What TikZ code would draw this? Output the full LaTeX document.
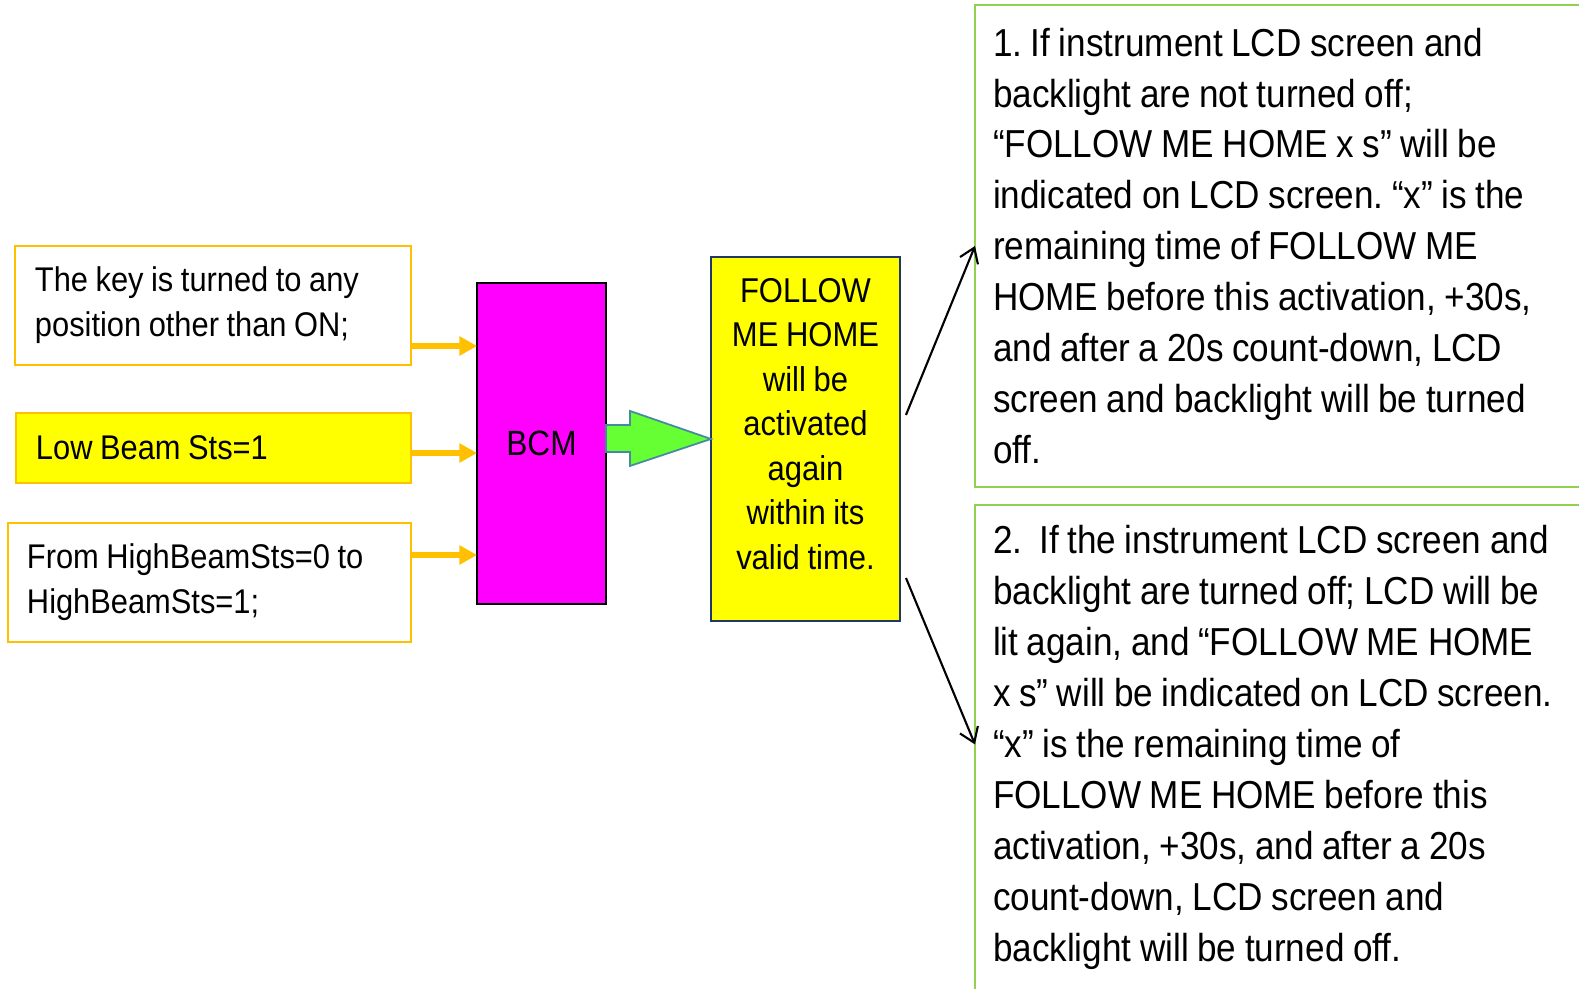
\documentclass[tikz,border=0pt]{standalone}
\usepackage{fontspec}
\setmainfont{Liberation Sans}[FakeStretch=0.9]
\frenchspacing
\usetikzlibrary{arrows.meta}
\definecolor{keyorange}{HTML}{FFC000}
\definecolor{beamyellow}{HTML}{FFFF00}
\definecolor{bcmmagenta}{HTML}{FF00FF}
\definecolor{flowgreen}{HTML}{66FF33}
\definecolor{flowedge}{RGB}{70,138,160}
\definecolor{fmhedge}{HTML}{1F3864}
\definecolor{noteedge}{HTML}{92D050}
\newcommand\narrowtext[2]{\fontsize{#1}{#2}\selectfont\spaceskip=0.22em\relax}

\begin{document}
\begin{tikzpicture}[x=0.02cm, y=-0.02cm,
  srcbox/.style={draw=keyorange, line width=1.1pt, outer sep=0pt, anchor=north west, align=flush left,
    inner xsep=0.4cm, inner ysep=0pt, font=\narrowtext{19.5}{25.6}},
  notebox/.style={draw=noteedge, line width=1.4pt, outer sep=0pt, anchor=north west, align=flush left,
    inner xsep=0.36cm, inner ysep=0pt, text width=12cm, font=\narrowtext{22.2}{29}},
  inarr/.style={keyorange, line width=3.4pt, -{Triangle[length=10pt,width=10.5pt]}},
  thinarr/.style={line width=1.2pt, -{Straight Barb[length=8pt,width=11pt]}}]
\useasboundingbox (0,0) rectangle (1579,988);
\clip (0,0) rectangle (1579,988);
% inputs
\node[srcbox, text width=7.12cm, minimum height=2.38cm] (key) at (15,246)
  {The key is turned to any\\position other than ON;};
\node[srcbox, fill=beamyellow, text width=7.1cm, minimum height=1.4cm] (lowbeam) at (16,413)
  {Low Beam Sts=1};
\node[srcbox, inner xsep=0.38cm, text width=7.3cm, minimum height=2.38cm] (highbeam) at (8,523)
  {From HighBeamSts=0 to\\HighBeamSts=1;};
% controller and result
\node[draw, fill=bcmmagenta, line width=1.1pt, outer sep=0pt, inner sep=0pt, anchor=north west,
  minimum width=2.58cm, minimum height=6.42cm, font=\narrowtext{20}{24}] (bcm) at (477,283) {BCM};
\node[draw=fmhedge, fill=beamyellow, line width=1.1pt, outer sep=0pt, inner sep=0pt, anchor=north west,
  text width=3.78cm, align=flush center, text height=0.91cm, text depth=6.37cm,
  font=\narrowtext{19.6}{25.3}] (fmh) at (711,257)
  {FOLLOW\\ME HOME\\will be\\activated\\again\\within its\\valid time.};
% notes
\node[notebox, minimum height=9.64cm] (note1) at (975,5)
  {1. If instrument LCD screen and\\
   backlight are not turned off;\\
   “FOLLOW ME HOME x s” will be\\
   indicated on LCD screen. “x” is the\\
   remaining time of FOLLOW ME\\
   HOME before this activation, +30s,\\
   and after a 20s count-down, LCD\\
   screen and backlight will be turned\\
   off.};
\node[notebox, text height=0.97cm, text depth=8.93cm] (note2) at (975,505)
  {2.\ \ If the instrument LCD screen and\\
   backlight are turned off; LCD will be\\
   lit again, and “FOLLOW ME HOME\\
   x s” will be indicated on LCD screen.\\
   “x” is the remaining time of\\
   FOLLOW ME HOME before this\\
   activation, +30s, and after a 20s\\
   count-down, LCD screen and\\
   backlight will be turned off.};
% connectors
\draw[inarr] (key.east |- 0,346) -- (bcm.west |- 0,346);
\draw[inarr] (lowbeam.east |- 0,453) -- (bcm.west |- 0,453);
\draw[inarr] (highbeam.east |- 0,555) -- (bcm.west |- 0,555);
\draw[flowedge, fill=flowgreen, line width=1pt] (fmh.west) -- ++(-81,-28) -- ++(0,14) -- ++(-24,0)
  -- ++(0,27) -- ++(24,0) -- ++(0,14) -- cycle;
\draw[thinarr] ([shift={(6,-24)}]fmh.east) -- (note1.west);
\draw[thinarr] ([shift={(6,139)}]fmh.east) -- ([shift={(0,-8)}]note2.west);
\end{tikzpicture}
\end{document}
